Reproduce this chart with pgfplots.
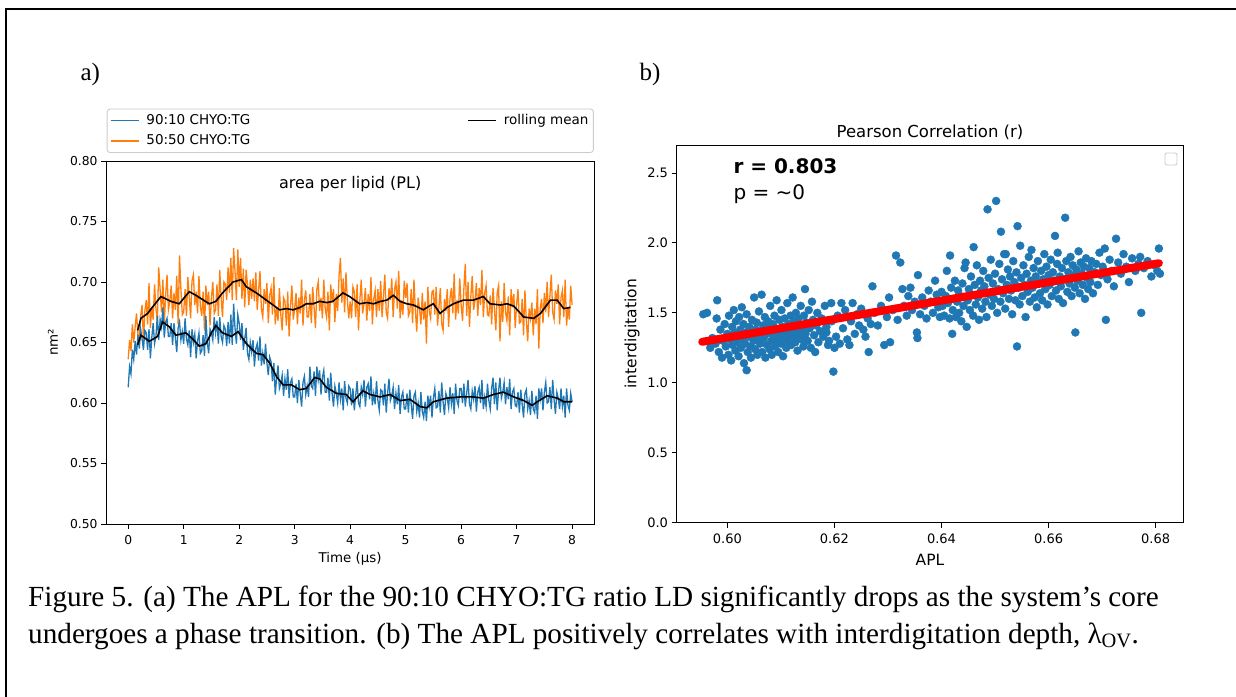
\documentclass[border=0pt]{standalone}
\usepackage{fontspec}
\setmainfont{Liberation Serif}
\newfontfamily\dv{DejaVu Sans}
\usepackage{pgfplots}
\pgfplotsset{compat=1.18}
\usepackage{pgfplotstable}
\newcommand\fs[1]{\fontsize{#1pt}{#1pt}\selectfont}
\definecolor{mplblue}{HTML}{1F77B4}
\definecolor{mplorange}{HTML}{FF7F0E}
\definecolor{leggray}{HTML}{CCCCCC}

% raw series, sampled every 0.025 us
\pgfplotstableread[header=false,row sep=\\]{
0.636\\0.652\\0.643\\0.665\\0.650\\0.663\\0.674\\0.656\\0.655\\0.672\\
0.681\\0.651\\0.676\\0.685\\0.665\\0.699\\0.662\\0.679\\0.669\\0.698\\
0.678\\0.667\\0.712\\0.694\\0.675\\0.702\\0.665\\0.689\\0.706\\0.677\\
0.684\\0.697\\0.670\\0.691\\0.677\\0.705\\0.665\\0.722\\0.694\\0.673\\
0.675\\0.694\\0.672\\0.704\\0.688\\0.670\\0.701\\0.706\\0.681\\0.692\\
0.674\\0.705\\0.680\\0.672\\0.692\\0.660\\0.697\\0.681\\0.692\\0.664\\
0.687\\0.700\\0.674\\0.677\\0.698\\0.672\\0.710\\0.687\\0.671\\0.700\\
0.698\\0.685\\0.712\\0.691\\0.720\\0.685\\0.728\\0.709\\0.685\\0.727\\
0.696\\0.720\\0.686\\0.711\\0.679\\0.710\\0.698\\0.681\\0.702\\0.686\\
0.703\\0.684\\0.708\\0.677\\0.693\\0.709\\0.678\\0.671\\0.694\\0.682\\
0.699\\0.666\\0.689\\0.695\\0.673\\0.704\\0.665\\0.679\\0.668\\0.695\\
0.673\\0.660\\0.687\\0.684\\0.664\\0.692\\0.655\\0.680\\0.697\\0.669\\
0.678\\0.691\\0.665\\0.687\\0.674\\0.702\\0.664\\0.685\\0.693\\0.671\\
0.671\\0.690\\0.666\\0.696\\0.679\\0.662\\0.694\\0.700\\0.676\\0.687\\
0.670\\0.702\\0.678\\0.671\\0.692\\0.660\\0.698\\0.683\\0.694\\0.667\\
0.690\\0.676\\0.705\\0.720\\0.683\\0.703\\0.675\\0.708\\0.685\\0.670\\
0.684\\0.670\\0.696\\0.692\\0.671\\0.698\\0.660\\0.685\\0.702\\0.674\\
0.682\\0.695\\0.668\\0.690\\0.676\\0.704\\0.665\\0.686\\0.693\\0.671\\
0.694\\0.676\\0.701\\0.671\\0.688\\0.706\\0.675\\0.670\\0.695\\0.685\\
0.703\\0.671\\0.694\\0.700\\0.678\\0.709\\0.670\\0.685\\0.673\\0.701\\
0.687\\0.699\\0.672\\0.675\\0.694\\0.666\\0.702\\0.677\\0.659\\0.687\\
0.678\\0.665\\0.691\\0.669\\0.684\\0.649\\0.696\\0.676\\0.670\\0.692\\
0.693\\0.673\\0.696\\0.664\\0.679\\0.695\\0.665\\0.660\\0.686\\0.676\\
0.694\\0.663\\0.687\\0.695\\0.674\\0.707\\0.669\\0.685\\0.674\\0.703\\
0.681\\0.668\\0.695\\0.715\\0.672\\0.700\\0.663\\0.688\\0.705\\0.677\\
0.685\\0.699\\0.672\\0.695\\0.681\\0.710\\0.671\\0.691\\0.697\\0.673\\
0.672\\0.689\\0.665\\0.695\\0.678\\0.660\\0.691\\0.697\\0.651\\0.684\\
0.667\\0.699\\0.675\\0.668\\0.688\\0.656\\0.694\\0.679\\0.690\\0.662\\
0.682\\0.694\\0.666\\0.667\\0.686\\0.656\\0.693\\0.668\\0.651\\0.678\\
0.670\\0.683\\0.656\\0.678\\0.665\\0.694\\0.645\\0.678\\0.686\\0.666\\
0.691\\0.675\\0.700\\0.671\\0.689\\0.706\\0.675\\0.669\\0.693\\0.682\\
0.698\\0.665\\0.687\\0.693\\0.671\\0.702\\0.664\\0.679\\0.669\\0.697\\
0.681\\
}\orangeraw

\pgfplotstableread[header=false,row sep=\\]{
0.613\\0.630\\0.624\\0.644\\0.636\\0.651\\0.640\\0.656\\0.645\\0.661\\
0.653\\0.644\\0.660\\0.658\\0.644\\0.661\\0.637\\0.654\\0.666\\0.649\\
0.655\\0.672\\0.652\\0.669\\0.663\\0.679\\0.654\\0.667\\0.670\\0.655\\
0.655\\0.666\\0.648\\0.666\\0.654\\0.642\\0.662\\0.667\\0.652\\0.659\\
0.649\\0.670\\0.653\\0.648\\0.660\\0.638\\0.661\\0.650\\0.657\\0.637\\
0.651\\0.658\\0.641\\0.643\\0.656\\0.639\\0.672\\0.650\\0.641\\0.661\\
0.658\\0.652\\0.671\\0.658\\0.668\\0.649\\0.671\\0.655\\0.650\\0.664\\
0.661\\0.647\\0.667\\0.649\\0.673\\0.648\\0.682\\0.662\\0.649\\0.673\\
0.666\\0.652\\0.666\\0.644\\0.653\\0.662\\0.641\\0.636\\0.650\\0.642\\
0.652\\0.630\\0.645\\0.649\\0.635\\0.655\\0.631\\0.641\\0.632\\0.649\\
0.633\\0.623\\0.638\\0.634\\0.618\\0.633\\0.607\\0.621\\0.631\\0.612\\
0.616\\0.623\\0.606\\0.620\\0.611\\0.628\\0.604\\0.617\\0.620\\0.605\\
0.605\\0.616\\0.600\\0.619\\0.608\\0.597\\0.617\\0.622\\0.607\\0.614\\
0.605\\0.630\\0.614\\0.612\\0.626\\0.606\\0.630\\0.619\\0.627\\0.607\\
0.621\\0.627\\0.609\\0.609\\0.621\\0.602\\0.625\\0.608\\0.597\\0.614\\
0.608\\0.600\\0.617\\0.603\\0.612\\0.594\\0.618\\0.604\\0.600\\0.614\\
0.612\\0.598\\0.612\\0.594\\0.606\\0.618\\0.600\\0.597\\0.613\\0.607\\
0.619\\0.597\\0.613\\0.616\\0.603\\0.622\\0.598\\0.608\\0.599\\0.618\\
0.602\\0.594\\0.611\\0.610\\0.598\\0.616\\0.592\\0.608\\0.620\\0.602\\
0.606\\0.613\\0.595\\0.608\\0.599\\0.615\\0.591\\0.605\\0.609\\0.595\\
0.595\\0.608\\0.592\\0.611\\0.599\\0.587\\0.606\\0.609\\0.593\\0.600\\
0.588\\0.609\\0.593\\0.588\\0.601\\0.585\\0.606\\0.597\\0.606\\0.588\\
0.604\\0.612\\0.596\\0.597\\0.610\\0.592\\0.617\\0.601\\0.590\\0.608\\
0.604\\0.596\\0.613\\0.599\\0.608\\0.591\\0.616\\0.602\\0.598\\0.612\\
0.612\\0.600\\0.616\\0.597\\0.608\\0.619\\0.599\\0.595\\0.610\\0.603\\
0.614\\0.593\\0.609\\0.613\\0.600\\0.619\\0.595\\0.605\\0.597\\0.616\\
0.602\\0.595\\0.612\\0.621\\0.599\\0.617\\0.594\\0.610\\0.621\\0.604\\
0.609\\0.617\\0.599\\0.613\\0.603\\0.620\\0.595\\0.609\\0.612\\0.598\\
0.597\\0.609\\0.592\\0.611\\0.599\\0.588\\0.608\\0.611\\0.595\\0.602\\
0.590\\0.610\\0.595\\0.592\\0.606\\0.587\\0.612\\0.603\\0.612\\0.594\\
0.609\\0.617\\0.600\\0.601\\0.613\\0.595\\0.619\\0.603\\0.591\\0.609\\
0.604\\0.595\\0.612\\0.597\\0.606\\0.588\\0.612\\0.598\\0.594\\0.608\\
0.601\\
}\blueraw

\pgfplotstableread{
t v
0.17 0.660
0.23 0.670
0.35 0.674
0.45 0.680
0.59 0.688
0.77 0.684
0.92 0.682
1.10 0.692
1.22 0.689
1.46 0.682
1.58 0.684
1.70 0.691
1.89 0.700
2.04 0.702
2.13 0.696
2.31 0.691
2.49 0.685
2.73 0.677
2.85 0.678
2.97 0.677
3.10 0.679
3.21 0.682
3.33 0.682
3.45 0.684
3.58 0.683
3.69 0.684
3.87 0.691
3.99 0.688
4.17 0.682
4.30 0.683
4.42 0.682
4.55 0.684
4.66 0.685
4.78 0.689
4.90 0.684
5.02 0.682
5.14 0.681
5.32 0.677
5.42 0.680
5.50 0.682
5.62 0.674
5.75 0.679
5.86 0.682
6.04 0.685
6.22 0.685
6.40 0.688
6.52 0.682
6.71 0.681
6.83 0.682
6.95 0.680
7.13 0.671
7.31 0.670
7.43 0.674
7.61 0.685
7.73 0.685
7.85 0.678
7.97 0.679
}\orangemean

\pgfplotstableread{
t v
0.17 0.648
0.23 0.656
0.38 0.651
0.53 0.655
0.62 0.667
0.74 0.663
0.86 0.656
0.95 0.657
1.04 0.658
1.16 0.653
1.28 0.647
1.40 0.649
1.50 0.658
1.58 0.664
1.70 0.658
1.86 0.655
1.98 0.659
2.13 0.649
2.31 0.641
2.43 0.640
2.55 0.633
2.67 0.622
2.79 0.615
2.94 0.615
3.09 0.611
3.21 0.612
3.36 0.621
3.45 0.620
3.57 0.613
3.75 0.608
3.93 0.607
4.05 0.601
4.23 0.610
4.36 0.607
4.54 0.605
4.72 0.607
4.90 0.602
5.08 0.603
5.26 0.597
5.38 0.596
5.50 0.601
5.74 0.604
5.98 0.605
6.22 0.605
6.40 0.604
6.58 0.607
6.76 0.609
6.95 0.605
7.13 0.602
7.28 0.598
7.37 0.601
7.55 0.606
7.73 0.604
7.85 0.601
8.00 0.601
}\bluemean

\pgfplotstableread{
x y
0.5955 1.49
0.5962 1.50
0.5968 1.25
0.5972 1.32
0.5978 1.28
0.5980 1.46
0.5981 1.59
0.5984 1.22
0.5987 1.38
0.5990 1.18
0.5992 1.30
0.5995 1.42
0.5997 1.26
0.6000 1.35
0.6002 1.20
0.6003 1.48
0.6005 1.31
0.6007 1.16
0.6009 1.40
0.6010 1.27
0.6012 1.52
0.6013 1.36
0.6015 1.23
0.6016 1.44
0.6018 1.29
0.6020 1.33
0.6021 1.19
0.6022 1.47
0.6024 1.38
0.6025 1.25
0.6027 1.54
0.6028 1.31
0.6030 1.42
0.6031 1.14
0.6033 1.28
0.6034 1.36
0.6036 1.09
0.6036 1.49
0.6038 1.22
0.6040 1.33
0.6041 1.40
0.6043 1.26
0.6044 1.18
0.6046 1.45
0.6047 1.35
0.6049 1.30
0.6050 1.61
0.6052 1.24
0.6053 1.38
0.6055 1.43
0.6056 1.20
0.6058 1.33
0.6059 1.51
0.6061 1.28
0.6062 1.37
0.6064 1.63
0.6065 1.22
0.6067 1.41
0.6068 1.32
0.6070 1.47
0.6071 1.18
0.6073 1.35
0.6074 1.27
0.6076 1.44
0.6077 1.39
0.6079 1.24
0.6080 1.55
0.6082 1.30
0.6083 1.20
0.6085 1.42
0.6086 1.34
0.6088 1.48
0.6089 1.26
0.6091 1.37
0.6092 1.59
0.6094 1.31
0.6095 1.22
0.6097 1.45
0.6098 1.36
0.6100 1.28
0.6101 1.52
0.6103 1.40
0.6104 1.19
0.6106 1.33
0.6107 1.46
0.6109 1.38
0.6110 1.25
0.6112 1.57
0.6113 1.30
0.6115 1.42
0.6116 1.35
0.6118 1.48
0.6119 1.27
0.6121 1.39
0.6122 1.61
0.6124 1.33
0.6125 1.44
0.6127 1.29
0.6128 1.50
0.6130 1.37
0.6131 1.23
0.6133 1.46
0.6134 1.34
0.6136 1.41
0.6137 1.55
0.6139 1.31
0.6140 1.38
0.6142 1.26
0.6143 1.48
0.6145 1.67
0.6146 1.35
0.6148 1.43
0.6150 1.30
0.6152 1.52
0.6154 1.39
0.6156 1.25
0.6158 1.58
0.6160 1.45
0.6162 1.34
0.6164 1.22
0.6166 1.41
0.6168 1.50
0.6170 1.29
0.6173 1.37
0.6176 1.46
0.6179 1.33
0.6182 1.55
0.6185 1.40
0.6188 1.27
0.6185 1.36
0.6190 1.30
0.6194 1.57
0.6195 1.44
0.6198 1.08
0.6200 1.25
0.6203 1.33
0.6206 1.48
0.6210 1.28
0.6213 1.57
0.6216 1.39
0.6220 1.52
0.6224 1.31
0.6228 1.27
0.6231 1.44
0.6234 1.57
0.6238 1.35
0.6242 1.49
0.6246 1.41
0.6250 1.53
0.6254 1.38
0.6258 1.33
0.6262 1.46
0.6264 1.22
0.6268 1.42
0.6271 1.69
0.6275 1.50
0.6281 1.41
0.6287 1.55
0.6293 1.27
0.6298 1.47
0.6302 1.61
0.6304 1.29
0.6309 1.52
0.6315 1.91
0.6318 1.45
0.6323 1.86
0.6327 1.67
0.6330 1.55
0.6335 1.48
0.6338 1.62
0.6342 1.68
0.6345 1.52
0.6350 1.58
0.6354 1.36
0.6355 1.32
0.6356 1.77
0.6360 1.49
0.6364 1.61
0.6368 1.55
0.6372 1.46
0.6376 1.66
0.6380 1.58
0.6384 1.50
0.6388 1.73
0.6391 1.63
0.6394 1.54
0.6397 1.47
0.6400 1.65
0.6402 1.55
0.6405 1.48
0.6408 1.62
0.6410 1.80
0.6412 1.57
0.6415 1.46
0.6416 1.91
0.6418 1.68
0.6420 1.35
0.6421 1.52
0.6423 1.60
0.6425 1.73
0.6427 1.47
0.6429 1.58
0.6431 1.66
0.6433 1.50
0.6435 1.62
0.6437 1.44
0.6439 1.71
0.6441 1.55
0.6443 1.82
0.6445 1.86
0.6447 1.40
0.6449 1.59
0.6451 1.67
0.6453 1.52
0.6455 1.76
0.6457 1.63
0.6459 1.48
0.6460 1.97
0.6462 1.70
0.6464 1.56
0.6466 1.84
0.6468 1.61
0.6470 1.45
0.6472 1.73
0.6474 1.66
0.6476 1.53
0.6478 1.80
0.6480 1.69
0.6482 1.58
0.6484 1.47
0.6486 2.24
0.6488 1.75
0.6490 1.63
0.6492 1.88
0.6494 1.55
0.6496 1.71
0.6498 1.60
0.6500 1.78
0.6502 2.30
0.6504 1.50
0.6506 1.67
0.6508 1.85
0.6510 1.58
0.6511 2.08
0.6513 1.74
0.6515 1.64
0.6517 1.92
0.6519 1.53
0.6520 1.92
0.6522 1.70
0.6524 1.81
0.6526 1.60
0.6528 1.76
0.6530 1.66
0.6532 1.49
0.6534 1.87
0.6536 1.72
0.6538 1.59
0.6540 1.79
0.6541 1.26
0.6542 2.12
0.6544 1.68
0.6546 1.56
0.6547 1.98
0.6549 1.75
0.6551 1.62
0.6553 1.84
0.6555 1.70
0.6557 1.47
0.6559 1.78
0.6561 1.65
0.6563 1.90
0.6565 1.58
0.6567 1.73
0.6568 1.95
0.6570 1.68
0.6572 1.82
0.6574 1.61
0.6576 1.76
0.6578 1.54
0.6580 1.87
0.6582 1.71
0.6584 1.64
0.6586 1.80
0.6588 1.59
0.6590 1.74
0.6592 1.92
0.6594 1.67
0.6596 1.83
0.6598 1.56
0.6600 1.77
0.6602 1.70
0.6604 1.88
0.6606 1.62
0.6608 1.79
0.6610 1.73
0.6612 2.05
0.6614 1.66
0.6616 1.85
0.6617 1.93
0.6619 1.60
0.6621 1.76
0.6623 1.69
0.6625 1.82
0.6627 1.57
0.6629 1.74
0.6631 2.18
0.6633 1.87
0.6635 1.65
0.6637 1.79
0.6639 1.71
0.6641 1.90
0.6643 1.62
0.6645 1.84
0.6647 1.77
0.6649 1.68
0.6650 1.36
0.6652 1.81
0.6654 1.73
0.6656 1.94
0.6658 1.64
0.6660 1.86
0.6662 1.78
0.6664 1.70
0.6666 1.83
0.6668 1.60
0.6670 1.89
0.6672 1.75
0.6674 1.67
0.6676 1.82
0.6678 1.72
0.6680 1.87
0.6683 1.64
0.6686 1.79
0.6689 1.85
0.6692 1.70
0.6695 1.93
0.6698 1.77
0.6701 1.83
0.6705 1.96
0.6707 1.45
0.6710 1.74
0.6714 1.88
0.6718 1.80
0.6722 1.69
0.6726 2.03
0.6730 1.86
0.6735 1.78
0.6740 1.92
0.6745 1.83
0.6750 1.72
0.6756 1.89
0.6762 1.80
0.6768 1.85
0.6771 1.90
0.6773 1.50
0.6778 1.82
0.6785 1.87
0.6792 1.76
0.6798 1.84
0.6803 1.80
0.6806 1.96
0.6808 1.78
}\scatterdata

\begin{document}
\begin{tikzpicture}[x=1pt,y=1pt]
\useasboundingbox (0,0) rectangle (1236,696);
\fill[white] (0,0) rectangle (1236,696);
\draw[line width=2.5pt] (6,-20) -- (6,687) -- (1260,687);

\node[anchor=base west,font=\fs{25}] at (77,615) {a)};
\node[anchor=base west,font=\fs{25}] at (636,615) {b)};

% ---------- panel a ----------
\begin{axis}[
  at={(106pt,172pt)}, anchor=south west, scale only axis,
  width=488.3pt, height=363pt,
  xmin=-0.4, xmax=8.4, ymin=0.5, ymax=0.8,
  xtick={0,1,2,3,4,5,6,7,8},
  ytick={0.50,0.55,0.60,0.65,0.70,0.75,0.80},
  tick pos=left, tick align=outside, major tick length=5pt,
  every tick/.style={black, line width=0.9pt},
  axis line style={line width=0.9pt},
  /pgf/number format/assume math mode=true,
  yticklabel style={/pgf/number format/.cd, fixed, fixed zerofill, precision=2},
  xticklabel style={yshift=-3pt},
  ticklabel style={font=\dv\fs{12.3}},
  scaled ticks=false,
  xlabel={Time (µs)}, ylabel={nm²},
  label style={font=\dv\fs{13.4}},
  xlabel style={at={(axis description cs:0.5,-0.0964)}, anchor=center},
  ylabel style={at={(axis description cs:-0.1085,0.5)}, anchor=center},
  title={area per lipid (PL)},
  title style={font=\dv\fs{16}, at={(axis description cs:0.5,0.921)}, anchor=center},
  legend columns=2,
  legend cell align=left,
  legend image code/.code={\draw[#1] (0pt,0pt) -- (28pt,0pt);},
  legend style={at={(0.0014,1)}, anchor=south west, yshift=8pt,
    font=\dv\fs{13.5}, draw=leggray, line width=0.9pt, rounded corners=3pt,
    inner xsep=3pt, inner ysep=3pt, row sep=3.5pt,
    nodes={inner sep=2pt, text height=10pt, text depth=3pt},
    /tikz/every odd column/.append style={column sep=5pt},
    /tikz/every even column/.append style={column sep=215pt}},
]
\addplot[mplorange, line width=1.3pt, forget plot] table[x expr=\coordindex*0.025, y index=0] {\orangeraw};
\addplot[mplblue, line width=1.3pt, forget plot] table[x expr=\coordindex*0.025, y index=0] {\blueraw};
\addplot[black, line width=1.6pt, forget plot] table[x=t, y=v] {\bluemean};
\addplot[black, line width=1.6pt, forget plot] table[x=t, y=v] {\orangemean};
\addlegendimage{mplblue, line width=1.3pt}
\addlegendentry{90:10 CHYO:TG}
\addlegendimage{black, line width=1.6pt}
\addlegendentry{rolling mean}
\addlegendimage{mplorange, line width=1.3pt}
\addlegendentry{50:50 CHYO:TG}
\end{axis}

% ---------- panel b ----------
\begin{axis}[
  at={(676.5pt,173.3pt)}, anchor=south west, scale only axis,
  width=507pt, height=377.7pt,
  xmin=0.5905, xmax=0.6852, ymin=0, ymax=2.7,
  xtick={0.60,0.62,0.64,0.66,0.68},
  ytick={0,0.5,1.0,1.5,2.0,2.5},
  tick pos=left, tick align=outside, major tick length=5pt,
  every tick/.style={black, line width=0.9pt},
  axis line style={line width=0.9pt},
  clip marker paths=true,
  /pgf/number format/assume math mode=true,
  xticklabel style={yshift=-3pt, /pgf/number format/.cd, fixed, fixed zerofill, precision=2},
  yticklabel style={/pgf/number format/.cd, fixed, fixed zerofill, precision=1},
  ticklabel style={font=\dv\fs{13}},
  scaled ticks=false,
  xlabel={APL}, ylabel={interdigitation},
  label style={font=\dv\fs{15.5}},
  xlabel style={at={(axis description cs:0.5,-0.0988)}, anchor=center},
  ylabel style={at={(axis description cs:-0.0878,0.5)}, anchor=center},
  title={Pearson Correlation (r)},
  title style={font=\dv\fs{16.5}, at={(axis description cs:0.5,1.0185)}, anchor=center},
]
\addplot[mplblue, only marks, mark=*, mark size=4pt] table[x=x, y=y] {\scatterdata};
\addplot[red, line width=8pt, line cap=round] coordinates {(0.5953,1.293) (0.6806,1.855)};
\node[anchor=west, font=\dv\bfseries\fs{20}] at (rel axis cs:0.1055,0.944) {r = 0.803};
\node[anchor=west, font=\dv\fs{20}] at (rel axis cs:0.1055,0.870) {p = \textasciitilde 0};
\end{axis}
\draw[leggray, line width=0.9pt, fill=white, rounded corners=2pt] (1165,531) rectangle (1177,543);

% ---------- caption ----------
\node[anchor=base west, font=\fs{29.2}, inner sep=0pt] at (28,90) {Figure 5. (a) The APL for the 90:10 CHYO:TG ratio LD significantly drops as the system’s core};
\node[anchor=base west, font=\fs{29.2}, inner sep=0pt] at (28,53) {undergoes a phase transition. (b) The APL positively correlates with interdigitation depth, λ\textsubscript{OV}.};
\end{tikzpicture}
\end{document}
